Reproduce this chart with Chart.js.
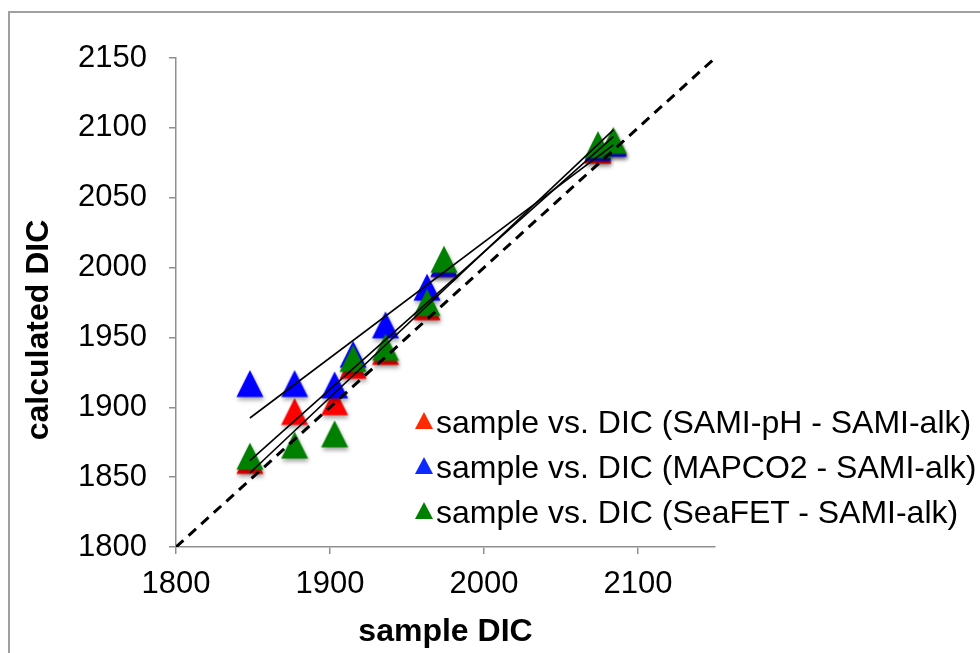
<!DOCTYPE html>
<html>
<head>
<meta charset="utf-8">
<script src="https://cdn.jsdelivr.net/npm/chart.js@4/dist/chart.umd.min.js"></script>
<style>
  body { margin: 0; background: #fff; }
  #wrap { position: relative; width: 980px; height: 653px; overflow: hidden; font-family: "Liberation Sans", Arial, sans-serif; }
  #frame { position: absolute; left: 8px; top: 11px; width: 1000px; height: 700px; border: 2px solid #a0a0a0; box-sizing: border-box; pointer-events: none; }
  #legend { position: absolute; left: 415px; top: 400px; font-size: 32px; color: #000; }
  #legend .row { line-height: 45px; height: 45px; white-space: nowrap; }
  #legend .mark { display: inline-block; width: 0; height: 0; border-left: 9px solid transparent; border-right: 9px solid transparent; border-bottom: 17px solid; margin-right: 3px; vertical-align: 4px; }
</style>
</head>
<body>
<div id="wrap">
  <canvas id="chart" width="980" height="653"></canvas>
  <div id="frame"></div>
  <div id="legend"></div>
</div>
<script>
// sample DIC (x) and calculated DIC for each sensor pair (y)
const sampleDIC = [1848, 1877, 1903, 1915, 1936, 1963, 1974, 2074, 2084];
const dicSamiPH = [1862, 1897, 1904, 1930, 1940, 1972, 2003, 2084, 2090];
const dicMapco2 = [1917, 1917, 1916, 1938, 1959, 1986, 2003, 2086, 2089];
const dicSeafet = [1865, 1873, 1881, 1935, 1943, 1975, 2006, 2088, 2091];

const seriesLabels = [
  'sample vs. DIC (SAMI-pH - SAMI-alk)',
  'sample vs. DIC (MAPCO2 - SAMI-alk)',
  'sample vs. DIC (SeaFET - SAMI-alk)'
];
const seriesColors = ['#ff0000', '#0000ff', '#008000'];
const legendColors = ['#ff2a00', '#0a2aff', '#008000'];

// 1:1 line
const oneToOne = [1800, 2150];

const xTickValues = [1800, 1900, 2000, 2100];
const yTickValues = [1800, 1850, 1900, 1950, 2000, 2050, 2100, 2150];

const FONT = '"Liberation Sans", Arial, sans-serif';
Chart.defaults.font.family = FONT;
Chart.defaults.color = '#000';

// triangle marker with a soft shadow, centred on its box like Excel's
function triangle(color) {
  const c = document.createElement('canvas');
  c.width = 44; c.height = 44;
  const g = c.getContext('2d');
  g.shadowColor = 'rgba(0,0,0,0.35)';
  g.shadowBlur = 4;
  g.shadowOffsetX = 1;
  g.shadowOffsetY = 3;
  g.fillStyle = color;
  g.beginPath();
  g.moveTo(22, 8.5);
  g.lineTo(35.5, 35.5);
  g.lineTo(8.5, 35.5);
  g.closePath();
  g.fill();
  return c;
}

// linear trendline over the range of the data
function trend(xs, ys) {
  const n = xs.length;
  const mx = xs.reduce((a, b) => a + b, 0) / n;
  const my = ys.reduce((a, b) => a + b, 0) / n;
  let sxy = 0, sxx = 0;
  for (let i = 0; i < n; i++) {
    sxy += (xs[i] - mx) * (ys[i] - my);
    sxx += (xs[i] - mx) * (xs[i] - mx);
  }
  const b = sxy / sxx, a = my - b * mx;
  const x0 = Math.min(...xs), x1 = Math.max(...xs);
  return [{ x: x0, y: a + b * x0 }, { x: x1, y: a + b * x1 }];
}

const ys = [dicSamiPH, dicMapco2, dicSeafet];

const datasets = [];
ys.forEach((yv, i) => {
  datasets.push({
    label: seriesLabels[i],
    data: sampleDIC.map((x, j) => ({ x: x, y: yv[j] })),
    pointStyle: triangle(seriesColors[i]),
    pointRadius: 14,
    backgroundColor: seriesColors[i],
    borderColor: seriesColors[i],
    showLine: false,
    order: 3 - i
  });
});
ys.forEach((yv) => {
  datasets.push({
    label: 'trend',
    data: trend(sampleDIC, yv),
    showLine: true,
    borderColor: '#000',
    borderWidth: 1.6,
    pointRadius: 0,
    order: 0
  });
});
datasets.push({
  label: '1:1',
  data: oneToOne.map(v => ({ x: v, y: v })),
  showLine: true,
  borderColor: '#000',
  borderWidth: 3,
  borderDash: [10, 7],
  pointRadius: 0,
  order: 0
});

const yTitle = {
  id: 'yTitle',
  afterDraw(chart) {
    const ctx = chart.ctx;
    ctx.save();
    ctx.translate(39, 330);
    ctx.rotate(-Math.PI / 2);
    ctx.font = 'bold 32px ' + FONT;
    ctx.fillStyle = '#000';
    ctx.textAlign = 'center';
    ctx.textBaseline = 'middle';
    ctx.fillText('calculated DIC', 0, 0);
    ctx.restore();
  }
};

const axisGrey = '#8f8f8f';

const chart = new Chart(document.getElementById('chart'), {
  type: 'scatter',
  data: { datasets: datasets },
  plugins: [yTitle],
  options: {
    responsive: false,
    animation: false,
    events: [],
    layout: { padding: { top: 58, right: 265, left: 0, bottom: 0 } },
    plugins: { legend: { display: false }, tooltip: { enabled: false } },
    scales: {
      x: {
        type: 'linear',
        min: 1800,
        max: 2150,
        afterBuildTicks: s => { s.ticks = xTickValues.map(v => ({ value: v })); },
        afterFit: s => { s.height = 106; },
        ticks: { font: { size: 31 }, padding: 12, color: '#000', callback: v => String(v) },
        grid: { drawOnChartArea: false, drawTicks: true, tickLength: 7, color: axisGrey, lineWidth: 1.5 },
        border: { color: axisGrey, width: 1.5 },
        title: { display: true, text: 'sample DIC', font: { size: 32, weight: 'bold' }, padding: { top: 0, bottom: 2 }, color: '#000' }
      },
      y: {
        type: 'linear',
        min: 1800,
        max: 2150,
        afterBuildTicks: s => { s.ticks = yTickValues.map(v => ({ value: v })); },
        afterFit: s => { s.width = 176; },
        ticks: { font: { size: 31 }, padding: 22, color: '#000', callback: v => String(v) },
        grid: { drawOnChartArea: false, drawTicks: true, tickLength: 7, color: axisGrey, lineWidth: 1.5 },
        border: { color: axisGrey, width: 1.5 }
      }
    }
  }
});

// legend built from the scatter datasets
const legend = document.getElementById('legend');
seriesLabels.forEach((lab, i) => {
  const row = document.createElement('div');
  row.className = 'row';
  const m = document.createElement('span');
  m.className = 'mark';
  m.style.borderBottomColor = legendColors[i];
  row.appendChild(m);
  row.appendChild(document.createTextNode(lab));
  legend.appendChild(row);
});
</script>
</body>
</html>
